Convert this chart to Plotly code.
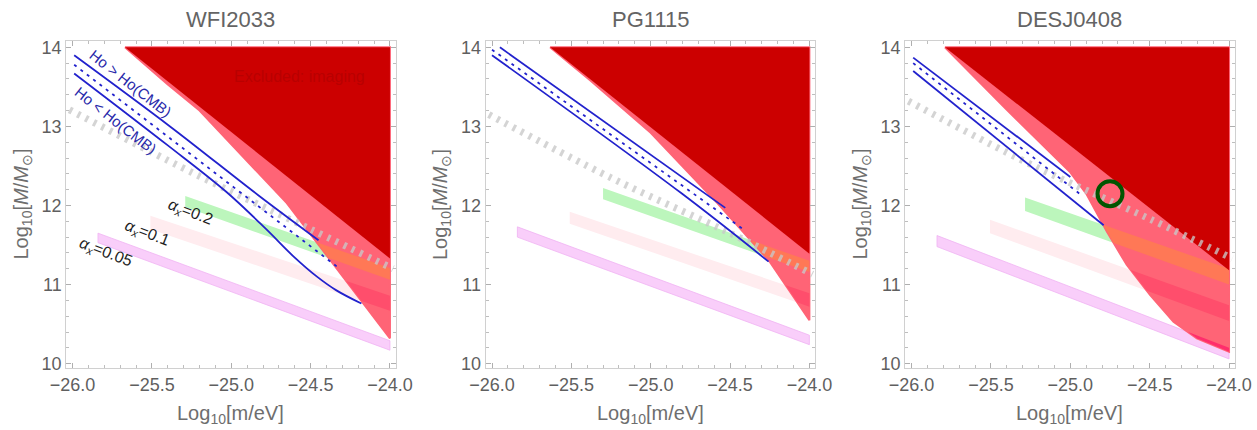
import plotly.graph_objects as go

# ---------------- data ----------------
panel_titles = ["WFI2033", "PG1115", "DESJ0408"]
x_range = [-26.04, -23.965]
y_range = [9.94, 14.08]

# excluded (imaging) dark red triangle
excl_x = [[-25.67, -24.0, -24.0], [-25.634, -24.0, -24.0], [-25.79, -24.0, -24.0]]
excl_y = [[14.0, 14.0, 11.33], [14.0, 14.0, 11.39], [14.0, 14.0, 11.18]]

# pink region lower-left boundary
pink_x_p1 = [-25.67, -25.40, -25.20, -24.65, -24.0]
pink_y_p1 = [14.0, 13.53, 13.20, 12.03, 10.32]
pink_x_p2 = [-25.634, -25.38, -25.0, -24.58, -24.25, -24.0]
pink_y_p2 = [14.0, 13.58, 12.92, 12.03, 11.29, 10.55]
pink_x_p3 = [-25.79, -25.40, -25.0, -24.90, -24.77, -24.645, -24.498, -24.35, -24.203, -24.0]
pink_y_p3 = [14.0, 13.21, 12.42, 12.15, 11.67, 11.25, 10.87, 10.53, 10.32, 10.15]

# bands: x ends, top (left,right), bottom (left,right)
green_x = [[-25.29, -24.0], [-25.30, -24.0], [-25.285, -24.0]]
green_top = [[12.12, 11.21], [12.22, 11.30], [12.10, 11.20]]
green_bot = [[11.98, 11.06], [12.08, 11.16], [11.93, 11.00]]
lpink_x = [[-25.51, -24.0], [-25.51, -24.0], [-25.506, -24.0]]
lpink_top = [[11.87, 10.86], [11.92, 10.89], [11.82, 10.74]]
lpink_bot = [[11.70, 10.67], [11.77, 10.72], [11.65, 10.54]]
mag_x = [[-25.84, -24.0], [-25.84, -24.0], [-25.84, -24.0]]
mag_top = [[11.65, 10.29], [11.73, 10.36], [11.62, 10.20]]
mag_bot = [[11.53, 10.17], [11.60, 10.24], [11.48, 10.06]]

# gray dashed curve
gray_x = [-26.02, -25.25, -24.5, -23.98]
gray_y = [[13.21, 12.42, 11.70, 11.20], [13.15, 12.35, 11.65, 11.13], [13.32, 12.52, 11.83, 11.33]]

# blue H0 lines: upper solid, dashed, lower solid
blue_up_x = [[-25.99, -25.386, -24.83, -24.45], [-25.95, -24.53], [-25.99, -25.0]]
blue_up_y = [[13.90, 13.0, 12.13, 11.56], [14.0, 11.97], [13.87, 12.36]]
blue_mid_x = [[-25.99, -24.336], [-26.0, -24.41], [-25.99, -24.93]]
blue_mid_y = [[13.78, 11.23], [13.97, 11.69], [13.80, 12.13]]
blue_lo_x = [[-25.99, -25.4, -25.03, -24.78, -24.61, -24.46, -24.34, -24.18],
             [-26.0, -24.81, -24.257], [-25.99, -24.79]]
blue_lo_y = [[13.67, 12.76, 12.17, 11.70, 11.36, 11.10, 10.93, 10.76],
             [13.90, 12.16, 11.29], [13.70, 11.75]]

# DESJ0408 marker
circle_x = [-24.75]
circle_y = [12.15]

# text labels (panel 1)
alpha_labels = ["0.2", "0.1", "0.05"]
alpha_lab_x = [-25.26, -25.53, -25.795]
alpha_lab_y = [11.91, 11.65, 11.40]
h0_labels = ["Ho > Ho(CMB)", "Ho < Ho(CMB)"]
h0_lab_x = [-25.634, -25.728]
h0_lab_y = [13.54, 13.07]
excl_label = "Excluded: imaging"
excl_lab_xy = [-24.567, 13.63]

# ---------------- style ----------------
W, H = 1257, 430
x_domains = [[66.25, 395.5], [485.65, 814.95], [905.25, 1234.6]]
y_dom_px = [41.0, 368.4]
FONT = "Liberation Sans, Arial, sans-serif"
C_DARK = "rgb(204,0,0)"
C_PINK = "rgb(255,100,118)"
C_GREEN = "rgb(188,246,188)"
C_LPINK = "rgb(255,236,239)"
C_MAG = "rgb(249,206,250)"
C_GREEN_OV = "rgb(255,120,86)"
C_LPINK_OV = "rgb(255,78,108)"
C_MAG_OV = "rgb(255,45,108)"
C_BLUE = "rgb(34,34,205)"


def band_poly(xs, top, bot):
    return [(xs[0], bot[0]), (xs[1], bot[1]), (xs[1], top[1]), (xs[0], top[0])]


def clip_poly(subject, clipper):
    """Sutherland-Hodgman: clip subject polygon by convex CCW clipper."""
    def inside(p, a, b):
        return (b[0] - a[0]) * (p[1] - a[1]) - (b[1] - a[1]) * (p[0] - a[0]) >= 0

    def inter(p, q, a, b):
        x1, y1 = p; x2, y2 = q; x3, y3 = a; x4, y4 = b
        den = (x1 - x2) * (y3 - y4) - (y1 - y2) * (x3 - x4)
        t = ((x1 - x3) * (y3 - y4) - (y1 - y3) * (x3 - x4)) / den
        return (x1 + t * (x2 - x1), y1 + t * (y2 - y1))

    out = list(subject)
    n = len(clipper)
    for i in range(n):
        a, b = clipper[i], clipper[(i + 1) % n]
        inp = out
        out = []
        if not inp:
            break
        s = inp[-1]
        for e in inp:
            if inside(e, a, b):
                if not inside(s, a, b):
                    out.append(inter(s, e, a, b))
                out.append(e)
            elif inside(s, a, b):
                out.append(inter(s, e, a, b))
            s = e
    return out


fig = go.Figure()
pinks = [(pink_x_p1, pink_y_p1), (pink_x_p2, pink_y_p2), (pink_x_p3, pink_y_p3)]


def add_fill(pts, color, xa, ya, line_color=None, lw=0):
    if not pts:
        return
    xs = [p[0] for p in pts] + [pts[0][0]]
    ys = [p[1] for p in pts] + [pts[0][1]]
    fig.add_trace(go.Scatter(x=xs, y=ys, fill="toself", fillcolor=color, mode="lines",
                             line=dict(width=lw, color=line_color or color),
                             xaxis=xa, yaxis=ya, showlegend=False, hoverinfo="skip"))


for i in range(3):
    xa = "x" if i == 0 else f"x{i+1}"
    ya = "y" if i == 0 else f"y{i+1}"
    mag = band_poly(mag_x[i], mag_top[i], mag_bot[i])
    lp = band_poly(lpink_x[i], lpink_top[i], lpink_bot[i])
    gr = band_poly(green_x[i], green_top[i], green_bot[i])
    add_fill(mag, C_MAG, xa, ya, "rgb(240,178,242)", 0.8)
    add_fill(lp, C_LPINK, xa, ya)
    add_fill(gr, C_GREEN, xa, ya)
    px, py = pinks[i]
    pink_pts = list(zip(px, py)) + [(-24.0, 14.0)]
    add_fill(pink_pts, C_PINK, xa, ya, C_PINK, 2)
    add_fill(clip_poly(pink_pts, mag), C_MAG_OV, xa, ya)
    add_fill(clip_poly(pink_pts, lp), C_LPINK_OV, xa, ya)
    add_fill(clip_poly(pink_pts, gr), C_GREEN_OV, xa, ya)
    add_fill(list(zip(excl_x[i], excl_y[i])), C_DARK, xa, ya)
    # gray dashed
    fig.add_trace(go.Scatter(x=gray_x, y=gray_y[i], mode="lines", line_shape="spline",
                             line=dict(color="rgba(200,200,200,0.78)", width=7, dash="3px,6px"),
                             xaxis=xa, yaxis=ya, showlegend=False, hoverinfo="skip"))
    # blue lines
    fig.add_trace(go.Scatter(x=blue_up_x[i], y=blue_up_y[i], mode="lines", line_shape="spline",
                             line=dict(color=C_BLUE, width=1.8), xaxis=xa, yaxis=ya,
                             showlegend=False, hoverinfo="skip"))
    fig.add_trace(go.Scatter(x=blue_mid_x[i], y=blue_mid_y[i], mode="lines",
                             line=dict(color=C_BLUE, width=1.8, dash="3px,5px"), xaxis=xa, yaxis=ya,
                             showlegend=False, hoverinfo="skip"))
    fig.add_trace(go.Scatter(x=blue_lo_x[i], y=blue_lo_y[i], mode="lines", line_shape="spline",
                             line=dict(color=C_BLUE, width=1.8), xaxis=xa, yaxis=ya,
                             showlegend=False, hoverinfo="skip"))
    if i == 2:
        fig.add_trace(go.Scatter(x=circle_x, y=circle_y, mode="markers",
                                 marker=dict(symbol="circle-open", size=25, color="rgb(0,85,0)",
                                             line=dict(color="rgb(0,85,0)", width=4)),
                                 xaxis=xa, yaxis=ya, showlegend=False, hoverinfo="skip"))

annotations = []
y_dom = [1 - y_dom_px[1] / H, 1 - y_dom_px[0] / H]
layout = dict(width=W, height=H, margin=dict(l=0, r=0, t=0, b=0, autoexpand=False),
              paper_bgcolor="white", plot_bgcolor="white", showlegend=False,
              font=dict(family=FONT))
axis_common = dict(showgrid=False, zeroline=False, showline=True, linecolor="rgb(208,208,208)",
                   linewidth=1, mirror="allticks", ticks="inside", ticklen=5,
                   tickcolor="rgb(175,175,175)", tickfont=dict(size=18, color="rgb(95,95,95)"))
for i in range(3):
    sx = "" if i == 0 else str(i + 1)
    xd = [x_domains[i][0] / W, x_domains[i][1] / W]
    layout["xaxis" + sx] = dict(axis_common, domain=xd, range=x_range, anchor="y" + sx,
                                tick0=-26, dtick=0.5, tickformat=".1f",
                                minor=dict(ticks="inside", dtick=0.1, ticklen=3,
                                           tickcolor="rgb(190,190,190)"))
    layout["yaxis" + sx] = dict(axis_common, domain=y_dom, range=y_range, anchor="x" + sx,
                                tick0=10, dtick=1,
                                minor=dict(ticks="inside", dtick=0.2, ticklen=3,
                                           tickcolor="rgb(190,190,190)"))
    cx = (xd[0] + xd[1]) / 2
    annotations.append(dict(text=panel_titles[i], x=cx, y=1 - 20 / H, xref="paper", yref="paper",
                            xanchor="center", yanchor="middle", showarrow=False,
                            font=dict(size=22, color="rgb(100,100,100)")))
    annotations.append(dict(text="Log<sub>10</sub>[m/eV]", x=cx, y=1 - 414 / H, xref="paper",
                            yref="paper", xanchor="center", yanchor="middle", showarrow=False,
                            font=dict(size=20, color="rgb(110,110,110)")))
    annotations.append(dict(text="Log<sub>10</sub>[<i>M</i>/<i>M</i><sub>⊙</sub>]",
                            x=(22 + 419.5 * i) / W, y=1 - 204.5 / H, xref="paper", yref="paper",
                            xanchor="center", yanchor="middle", textangle=-90, showarrow=False,
                            font=dict(size=20, color="rgb(110,110,110)")))

for lab, lx, ly in zip(alpha_labels, alpha_lab_x, alpha_lab_y):
    annotations.append(dict(text=f"<i>α</i><sub><i>x</i></sub>={lab}", x=lx, y=ly, xref="x", yref="y",
                            xanchor="center", yanchor="middle",
                            textangle=21, showarrow=False, font=dict(size=16, color="rgb(30,30,30)")))
for lab, lx, ly in zip(h0_labels, h0_lab_x, h0_lab_y):
    annotations.append(dict(text=lab, x=lx, y=ly, xref="x", yref="y", textangle=38, showarrow=False,
                            xanchor="center", yanchor="middle",
                            font=dict(size=15, color="rgb(40,40,170)")))
annotations.append(dict(text=excl_label, x=excl_lab_xy[0], y=excl_lab_xy[1], xref="x", yref="y",
                        xanchor="center", yanchor="middle",
                        showarrow=False, font=dict(size=16, color="rgb(184,0,0)")))
layout["annotations"] = annotations
fig.update_layout(**layout)
fig.write_html("out.html")
